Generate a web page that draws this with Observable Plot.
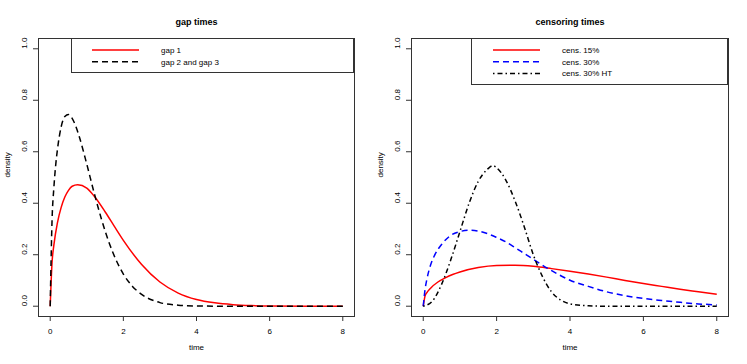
<!DOCTYPE html>
<html><head><meta charset="utf-8">
<script src="https://cdn.jsdelivr.net/npm/d3@7"></script>
<script src="https://cdn.jsdelivr.net/npm/@observablehq/plot@0.6"></script>
<style>
body{margin:0;background:#fff;font-family:"Liberation Sans",Arial,sans-serif;}
#wrap{display:flex;width:747px;height:364px;overflow:hidden;}
.panel{position:relative;}
.legend{position:absolute;box-sizing:border-box;border:1px solid #333;}
.legend svg{display:block;}
</style></head><body><div id="wrap"></div>
<script>
// ---- data ----
const xTicks = [0, 2, 4, 6, 8];
const yTicks = [0, 0.2, 0.4, 0.6, 0.8, 1.0];
const xLabel = "time";
const yLabel = "density";
const titles = ["gap times", "censoring times"];

// left panel: gap times
const gap1Time = [0,0.05,0.1,0.2,0.3,0.4,0.5,0.6,0.75,1.0,1.2,1.5,1.75,2.0,2.5,3.0,3.5,4.0,4.5,5.0,5.5,6.0,7.0,8.0];
const gap1Dens = [0,0.169,0.237,0.326,0.384,0.424,0.450,0.466,0.472,0.459,0.428,0.367,0.311,0.256,0.162,0.094,0.051,0.026,0.013,0.006,0.0025,0.001,0.0001,0];
const gap23Time = [0,0.05,0.1,0.15,0.2,0.3,0.4,0.5,0.6,0.7,0.8,1.0,1.2,1.4,1.6,1.8,2.0,2.25,2.5,3.0,3.5,4.0,5.0,6.0,8.0];
const gap23Dens = [0,0.332,0.460,0.548,0.611,0.697,0.737,0.745,0.730,0.699,0.656,0.552,0.441,0.339,0.251,0.180,0.125,0.077,0.046,0.014,0.004,0.001,0,0,0];

// right panel: censoring times
const cens15Time = [0,0.05,0.1,0.2,0.4,0.6,0.8,1.0,1.5,2.0,2.5,3.0,3.5,4.0,4.5,5.0,5.5,6.0,6.5,7.0,7.5,8.0];
const cens15Dens = [0,0.040,0.053,0.070,0.094,0.110,0.123,0.133,0.150,0.158,0.159,0.155,0.146,0.136,0.125,0.113,0.100,0.088,0.077,0.066,0.056,0.046];
const cens30Time = [0,0.05,0.1,0.2,0.3,0.5,0.75,1.0,1.25,1.5,1.75,2.0,2.25,2.5,2.75,3.0,3.5,4.0,4.5,5.0,5.5,6.0,6.5,7.0,7.5,8.0];
const cens30Dens = [0,0.065,0.105,0.160,0.195,0.240,0.275,0.290,0.295,0.292,0.282,0.267,0.250,0.228,0.205,0.182,0.138,0.101,0.077,0.056,0.041,0.030,0.022,0.015,0.009,0.005];
const censHTTime = [0,0.25,0.5,0.75,1.0,1.25,1.5,1.75,1.9,2.0,2.25,2.5,2.75,3.0,3.25,3.5,3.75,4.0,4.5,5.0,6.0,7.0,8.0];
const censHTDens = [0,0.02,0.085,0.18,0.29,0.40,0.485,0.532,0.546,0.538,0.49,0.41,0.31,0.20,0.115,0.055,0.024,0.009,0.002,0,0,0,0];

const leftNames = ["gap 1", "gap 2 and gap 3"];
const rightNames = ["cens. 15%", "cens. 30%", "cens. 30% HT"];

// ---- styles ----
const SW = 1.5;
const styles = {
  "gap 1": {stroke: "#ff0000", dash: null},
  "gap 2 and gap 3": {stroke: "#000000", dash: "6,4"},
  "cens. 15%": {stroke: "#ff0000", dash: null},
  "cens. 30%": {stroke: "#0000ff", dash: "6,4"},
  "cens. 30% HT": {stroke: "#000000", dash: "1.5,3,5,3"}
};

function table(name, ts, ds) { return ts.map((t, i) => ({name, t, d: ds[i]})); }

function panel(width, title, series, legendNames, legend) {
  const div = document.createElement("div");
  div.className = "panel";
  div.style.width = width + "px";
  const marks = [
    Plot.frame({stroke: "#333"}),
    Plot.axisX(xTicks, {tickSize: 5, tickPadding: 7, label: null, fontSize: 8, stroke: "#333", fill: "#000"}),
    Plot.axisY(yTicks, {tickSize: 5, tickFormat: () => "", label: null, stroke: "#333"}),
    Plot.text(yTicks, {y: d => d, frameAnchor: "left", dx: -14.5, rotate: -90, text: d => d.toFixed(1), fontSize: 8, fill: "#000"}),
    Plot.text([xLabel], {frameAnchor: "bottom", dy: 33, text: d => d, fontSize: 8, fill: "#000"}),
    Plot.text([yLabel], {frameAnchor: "left", dx: -31, rotate: -90, text: d => d, fontSize: 8, fill: "#000"}),
    Plot.text([title], {frameAnchor: "top", dy: -20, text: d => d, fontSize: 9, fontWeight: "bold", fill: "#000"})
  ];
  for (const s of series) {
    const st = styles[s.name];
    marks.push(Plot.line(table(s.name, s.time, s.dens), {
      x: "t", y: "d", stroke: st.stroke, strokeWidth: SW, strokeDasharray: st.dash,
      curve: "monotone-x", strokeLinecap: "butt"
    }));
  }
  const chart = Plot.plot({
    width, height: 364,
    marginTop: 38, marginBottom: 48, marginLeft: 38, marginRight: 19,
    x: {domain: [-0.32, 8.32]},
    y: {domain: [-0.04, 1.04]},
    style: {fontFamily: "'Liberation Sans', Arial, sans-serif", fontSize: "8px", background: "white", color: "#000"},
    marks
  });
  div.appendChild(chart);

  // legend box
  const lg = document.createElement("div");
  lg.className = "legend";
  Object.assign(lg.style, {left: legend.left + "px", top: legend.top + "px", width: legend.width + "px", height: legend.height + "px"});
  const svg = d3.select(lg).append("svg").attr("width", legend.width - 2).attr("height", legend.height - 2)
    .style("font-family", "'Liberation Sans', Arial, sans-serif").style("font-size", "8px");
  legendNames.forEach((name, i) => {
    const y = legend.row0 + i * legend.rowStep;
    const st = styles[name];
    svg.append("line").attr("x1", legend.lx0).attr("x2", legend.lx1).attr("y1", y).attr("y2", y)
      .attr("stroke", st.stroke).attr("stroke-width", SW).attr("stroke-dasharray", st.dash);
    svg.append("text").attr("x", legend.tx).attr("y", y).attr("dy", "0.35em").attr("fill", "#000").text(name);
  });
  div.appendChild(lg);
  return div;
}

const wrap = document.getElementById("wrap");
wrap.appendChild(panel(373, titles[0], [
  {name: leftNames[0], time: gap1Time, dens: gap1Dens},
  {name: leftNames[1], time: gap23Time, dens: gap23Dens}
], leftNames, {left: 71, top: 38, width: 283, height: 35, row0: 11, rowStep: 11.7, lx0: 20, lx1: 67, tx: 89}));
wrap.appendChild(panel(374, titles[1], [
  {name: rightNames[0], time: cens15Time, dens: cens15Dens},
  {name: rightNames[1], time: cens30Time, dens: cens30Dens},
  {name: rightNames[2], time: censHTTime, dens: censHTDens}
], rightNames, {left: 98, top: 38, width: 257, height: 47, row0: 11, rowStep: 11.7, lx0: 21, lx1: 68, tx: 90}));
</script>
</body></html>
